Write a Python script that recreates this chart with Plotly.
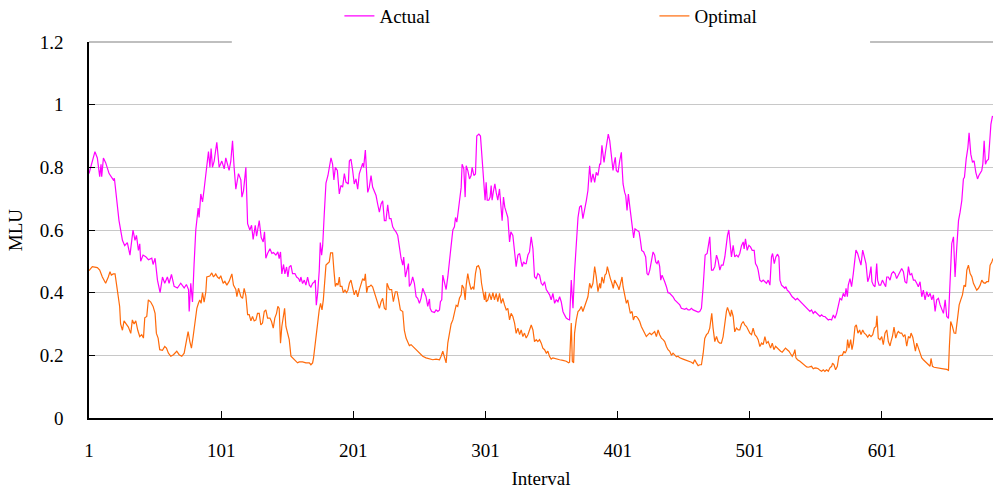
import plotly.graph_objects as go

# Interval positions and MLU values for the actual routing
actual_interval = [
    1, 3.5, 5.5, 7.3, 9.1, 10.1, 10.6, 11.9, 13.6, 16.2, 17.9, 19.4, 20.2, 21.7, 23.7, 26.3, 28, 30, 32, 34.3,
    35.8, 36.9, 38.4, 39.4, 40.1, 41.9, 43.9, 46, 48.5, 49.5, 51, 52.8, 54.8, 56.6, 58.3, 60.3, 61.6, 63.4, 65.4, 67.9,
    70.4, 73, 74.7, 76.3, 76.8, 78, 79.3, 80.5, 81.8, 83.6, 84.3, 85.6, 86.9, 88.1, 88.9, 89.9, 91.4, 92.5, 93.4, 94.4,
    95.7, 97.7, 99.5, 101.5, 103.3, 104.5, 107, 108.3, 109.6, 110.8, 112.1, 114.1, 115.9, 116.7, 117.9, 119.7, 121, 122.7, 124, 125.2,
    126.8, 127.8, 129.8, 131.3, 132.8, 133.8, 134.8, 136.1, 137.9, 139.4, 140.6, 142.4, 143.9, 144.9, 145.9, 146.9, 148.2, 149.2, 150.5, 151.5,
    152.5, 153.8, 155, 156.8, 158.1, 159.6, 160.6, 161.3, 162.6, 163.9, 165.1, 166.4, 167.7, 168.9, 170.2, 171.4, 172.2, 173, 174, 175.2,
    176, 177, 177.8, 179, 180.3, 181.8, 182.8, 184.1, 185.3, 186.3, 187.4, 188.9, 190.4, 191.6, 192.9, 194.2, 195.4, 197.2, 198, 199.2,
    200.5, 201.7, 203, 204.3, 205.5, 206.8, 208.1, 208.8, 210.1, 211.1, 211.9, 213.1, 214.4, 215.6, 216.9, 218.2, 219.4, 220.7, 222, 223.2,
    224.5, 225.7, 227, 228.3, 229.5, 230.8, 232.1, 233.3, 234.6, 235.8, 237.1, 238.4, 239.1, 240.4, 241.6, 242.7, 243.4, 244.7, 245.9, 247.2,
    248.5, 249.7, 251, 252.2, 253.5, 254.8, 256, 257.3, 258.6, 259.1, 260.3, 262.4, 263.6, 264.9, 266.2, 266.9, 267.9, 268.7, 269.9, 271.2,
    272.5, 273.7, 275, 276.3, 277.5, 278.3, 279.3, 280, 281.3, 282.6, 283.3, 284.6, 285.6, 286.4, 287.6, 288.9, 290.1, 290.9, 292.2, 293.4,
    294.4, 296, 297.2, 298, 299, 299.7, 300.7, 301.5, 302.3, 303.5, 304.5, 305.3, 306, 307.1, 308.1, 309.1, 310.3, 311.6, 312.6, 313.6,
    314.6, 315.6, 316.7, 317.9, 319.2, 320.2, 321.7, 323, 324.2, 325.5, 326.8, 328, 328.8, 329.8, 330.8, 331.8, 333.1, 334.3, 335.6, 336.9,
    338.1, 339.4, 340.6, 341.9, 343.2, 344.4, 345.7, 347, 348.2, 349.5, 350.7, 352, 353.3, 354.5, 355.8, 357.1, 358.3, 359.6, 360.8, 362.1,
    363.4, 364.6, 365.9, 367.2, 368.4, 369.7, 371, 372.2, 373.5, 374.7, 376, 377.3, 378.5, 379.8, 381, 382.3, 383.6, 384.8, 386.1, 387.4,
    388.1, 389.1, 389.9, 390.7, 391.9, 392.9, 393.9, 395, 396.2, 397.5, 398.2, 399.2, 400, 401.3, 402.5, 403.8, 404.5, 405.1, 406.3, 407.1,
    408.1, 409.1, 410.1, 411.4, 412.1, 413.1, 414.1, 415.7, 417.2, 418.2, 419.2, 420.7, 422.2, 423.2, 424.2, 425.3, 426.5, 427.8, 429, 429.8,
    430.8, 431.8, 432.8, 433.6, 434.6, 435.4, 436.6, 437.9, 439.1, 440.4, 441.7, 442.9, 444.2, 445.5, 446.7, 448, 449.2, 450.5, 451.8, 453,
    454.3, 455.6, 456.8, 458.1, 460.1, 461.9, 463.1, 464.4, 465.7, 466.4, 467.2, 468.7, 469.7, 470.7, 472, 473.2, 474.5, 475.8, 477, 478.3,
    479.5, 480.8, 482.1, 482.8, 484.1, 485.1, 485.9, 487.1, 488.4, 489.6, 490.9, 492.2, 493.4, 494.7, 496, 496.7, 497.7, 499, 500.3, 501.5,
    502.8, 504.3, 505.3, 506.6, 507.3, 508.6, 509.9, 511.1, 512.4, 513.6, 514.9, 516.2, 517.4, 518.2, 519.5, 520.7, 522, 523, 523.8, 525,
    526.3, 527.5, 528.3, 529.3, 530.6, 531.8, 533.1, 534.4, 535.6, 536.9, 538.1, 538.9, 540.2, 541.4, 542.7, 544, 545.2, 546.5, 547.7, 549,
    550.3, 551.5, 552.8, 554.1, 555.3, 556.6, 557.8, 559.1, 560.4, 561.6, 562.9, 564.2, 565.4, 566.7, 567.9, 569.2, 570.5, 571.7, 573, 573.8,
    574.8, 575.5, 576.8, 578, 579.3, 580.6, 581.3, 582.6, 583.9, 585.1, 586.4, 587.6, 588.9, 590.2, 591.4, 592.7, 593.4, 594.5, 595.7, 597,
    597.7, 598.8, 600, 601.3, 602.5, 603.8, 604.6, 605.8, 607.1, 608.3, 609.6, 610.9, 612.1, 613.4, 614.7, 615.9, 617.2, 618.4, 619.7, 621,
    622.2, 623.5, 624.8, 626, 627.3, 628.5, 629.8, 631.1, 632.3, 633.6, 634.9, 636.1, 637.4, 638.7, 639.9, 641.2, 642.4, 643.7, 645, 646.2,
    647.5, 648.8, 650, 651.3, 652.5, 653.8, 655.1, 656.3, 657.6, 658.9, 660.1, 661.4, 662.6, 663.4, 664.7, 666, 666.9, 668.2, 669.5, 670.7,
    672, 673.3, 674.3, 675.3, 676.5, 677.3, 678.3, 679.3, 680.3, 681.6, 682.3, 683.4, 684.6,
]
actual_mlu = [
    0.78, 0.815, 0.85, 0.83, 0.77, 0.81, 0.77, 0.83, 0.815, 0.78, 0.77, 0.76, 0.765, 0.70, 0.63, 0.567, 0.55, 0.56, 0.52, 0.60,
    0.567, 0.583, 0.535, 0.556, 0.50, 0.52, 0.515, 0.505, 0.51, 0.49, 0.51, 0.44, 0.40, 0.45, 0.43, 0.45, 0.43, 0.458, 0.42, 0.415,
    0.43, 0.415, 0.426, 0.41, 0.34, 0.43, 0.37, 0.49, 0.60, 0.67, 0.64, 0.715, 0.69, 0.73, 0.76, 0.81, 0.85, 0.80, 0.86, 0.80,
    0.82, 0.88, 0.80, 0.82, 0.795, 0.83, 0.79, 0.82, 0.885, 0.80, 0.73, 0.78, 0.76, 0.705, 0.725, 0.80, 0.62, 0.60, 0.615, 0.57,
    0.615, 0.58, 0.63, 0.576, 0.562, 0.594, 0.51, 0.525, 0.54, 0.525, 0.528, 0.52, 0.53, 0.509, 0.53, 0.46, 0.49, 0.46, 0.482, 0.45,
    0.482, 0.487, 0.461, 0.461, 0.45, 0.445, 0.435, 0.45, 0.429, 0.44, 0.424, 0.45, 0.424, 0.418, 0.43, 0.434, 0.44, 0.36, 0.398, 0.47,
    0.56, 0.52, 0.55, 0.65, 0.75, 0.774, 0.795, 0.83, 0.81, 0.76, 0.80, 0.79, 0.715, 0.742, 0.737, 0.78, 0.753, 0.747, 0.82, 0.826,
    0.79, 0.747, 0.763, 0.73, 0.779, 0.795, 0.813, 0.80, 0.855, 0.779, 0.72, 0.737, 0.774, 0.737, 0.726, 0.71, 0.683, 0.657, 0.683, 0.693,
    0.63, 0.63, 0.68, 0.636, 0.636, 0.61, 0.60, 0.594, 0.583, 0.546, 0.51, 0.488, 0.514, 0.45, 0.477, 0.493, 0.42, 0.43, 0.45, 0.43,
    0.387, 0.382, 0.366, 0.382, 0.414, 0.398, 0.387, 0.356, 0.38, 0.35, 0.34, 0.337, 0.345, 0.34, 0.345, 0.371, 0.377, 0.456, 0.43, 0.41,
    0.451, 0.49, 0.55, 0.60, 0.61, 0.64, 0.625, 0.647, 0.695, 0.736, 0.81, 0.795, 0.705, 0.805, 0.79, 0.763, 0.774, 0.80, 0.774, 0.779,
    0.90, 0.906, 0.90, 0.853, 0.79, 0.736, 0.695, 0.752, 0.695, 0.695, 0.705, 0.742, 0.695, 0.726, 0.747, 0.72, 0.695, 0.731, 0.684, 0.63,
    0.705, 0.673, 0.657, 0.64, 0.562, 0.594, 0.583, 0.525, 0.483, 0.52, 0.525, 0.498, 0.483, 0.498, 0.493, 0.493, 0.52, 0.53, 0.578, 0.54,
    0.451, 0.445, 0.461, 0.456, 0.43, 0.424, 0.435, 0.41, 0.403, 0.393, 0.377, 0.398, 0.366, 0.377, 0.371, 0.387, 0.371, 0.34, 0.329, 0.319,
    0.315, 0.313, 0.44, 0.35, 0.467, 0.567, 0.64, 0.673, 0.678, 0.636, 0.673, 0.694, 0.726, 0.805, 0.752, 0.779, 0.752, 0.784, 0.774, 0.81,
    0.81, 0.87, 0.842, 0.816, 0.853, 0.885, 0.906, 0.885, 0.842, 0.79, 0.81, 0.832, 0.79, 0.784, 0.82, 0.848, 0.79, 0.747, 0.72, 0.71,
    0.662, 0.715, 0.678, 0.63, 0.62, 0.575, 0.604, 0.60, 0.594, 0.567, 0.535, 0.53, 0.514, 0.461, 0.456, 0.472, 0.503, 0.53, 0.52, 0.498,
    0.493, 0.503, 0.483, 0.44, 0.456, 0.445, 0.435, 0.419, 0.40, 0.398, 0.393, 0.387, 0.377, 0.371, 0.368, 0.361, 0.35, 0.348, 0.347, 0.35,
    0.345, 0.345, 0.35, 0.345, 0.342, 0.338, 0.34, 0.35, 0.419, 0.483, 0.52, 0.525, 0.546, 0.578, 0.472, 0.472, 0.483, 0.52, 0.503, 0.472,
    0.488, 0.488, 0.514, 0.54, 0.583, 0.60, 0.567, 0.514, 0.551, 0.514, 0.52, 0.514, 0.525, 0.55, 0.562, 0.54, 0.572, 0.535, 0.551, 0.546,
    0.535, 0.535, 0.493, 0.483, 0.472, 0.44, 0.435, 0.44, 0.435, 0.43, 0.44, 0.424, 0.514, 0.525, 0.493, 0.514, 0.523, 0.514, 0.44, 0.424,
    0.419, 0.414, 0.419, 0.408, 0.403, 0.393, 0.387, 0.382, 0.377, 0.382, 0.377, 0.371, 0.366, 0.361, 0.356, 0.35, 0.345, 0.34, 0.345, 0.334,
    0.34, 0.334, 0.329, 0.324, 0.329, 0.324, 0.324, 0.318, 0.313, 0.315, 0.313, 0.329, 0.318, 0.334, 0.356, 0.382, 0.377, 0.398, 0.387, 0.414,
    0.387, 0.424, 0.445, 0.419, 0.461, 0.504, 0.536, 0.525, 0.504, 0.488, 0.536, 0.514, 0.493, 0.435, 0.45, 0.483, 0.435, 0.424, 0.419, 0.493,
    0.44, 0.424, 0.424, 0.44, 0.43, 0.419, 0.45, 0.45, 0.44, 0.461, 0.467, 0.461, 0.445, 0.456, 0.467, 0.477, 0.467, 0.435, 0.43, 0.483,
    0.456, 0.461, 0.44, 0.44, 0.43, 0.419, 0.435, 0.387, 0.408, 0.377, 0.403, 0.387, 0.398, 0.377, 0.393, 0.34, 0.377, 0.382, 0.361, 0.345,
    0.334, 0.377, 0.324, 0.318, 0.419, 0.557, 0.578, 0.45, 0.546, 0.63, 0.657, 0.694, 0.763, 0.768, 0.826, 0.863, 0.91, 0.842, 0.816, 0.821,
    0.784, 0.763, 0.774, 0.784, 0.79, 0.81, 0.885, 0.81, 0.821, 0.826, 0.885, 0.937, 0.964,
]

# Interval positions and MLU values for the optimal routing
optimal_interval = [
    1, 3.5, 7.3, 9.1, 11.1, 13.6, 15.6, 16.9, 17.9, 19.4, 20.7, 21.9, 23.2, 24.2, 24.9, 26.3, 27.5, 29.3, 30.8, 32.6,
    33.8, 35.1, 36.4, 37.9, 39.4, 40.9, 42.2, 43.2, 44.7, 45.9, 47.7, 49.5, 51, 52, 53.3, 54.5, 56.6, 58.3, 59.6, 61.1,
    62.9, 64.9, 67.4, 69.2, 71.2, 73, 74.2, 76, 77.3, 78.5, 79.8, 81.3, 82.6, 83.8, 84.8, 85.8, 86.9, 88.1, 89.4, 90.1,
    92.4, 93.9, 95.2, 96.9, 98.2, 99.5, 100.7, 102.5, 103.8, 105.3, 107, 109.1, 110.3, 112.1, 112.9, 114.1, 115.9, 117.2, 118.4, 119.7,
    121, 122.2, 123.5, 124.7, 126, 127.3, 128.5, 129.8, 131, 132.3, 133.6, 134.8, 136.1, 137.9, 139.1, 140.4, 141.6, 142.9, 143.9, 144.9,
    145.9, 146.9, 148.2, 149, 150, 151.2, 152.5, 153.8, 155, 156.3, 157.6, 158.8, 160.1, 162.6, 165.1, 167.7, 168.9, 170.2, 170.9, 171.9,
    172.7, 174, 175.2, 176.2, 177.3, 178.3, 179.3, 180.3, 181.5, 182.8, 183.8, 185.3, 186.3, 187.4, 188.4, 189.4, 190.4, 191.1, 192.4, 193.4,
    194.7, 195.9, 196.9, 198, 199.2, 200.5, 201.7, 203, 204.3, 205.5, 206.8, 208.1, 209.3, 210.1, 211.1, 212.1, 213.1, 214.4, 215.6, 216.9,
    218.2, 219.4, 220.7, 222, 223.2, 224.5, 225.7, 226.5, 228.3, 230, 231.3, 232.8, 234.1, 235.3, 236.6, 238.4, 239.6, 240.9, 242.2, 243.4,
    244.7, 245.9, 247.2, 248.5, 251, 253.5, 256, 258.6, 261.1, 263.6, 266.2, 267.4, 268.7, 269.9, 271.2, 272.5, 273.7, 275, 276.3, 277.5,
    278.8, 280, 281.3, 282.6, 283.3, 284.6, 285.6, 286.4, 287.6, 288.9, 290.1, 291.4, 292.2, 293.4, 294.4, 295.7, 297, 298, 299, 300.2,
    301, 301.5, 302.8, 304, 305.3, 306.6, 307.8, 309.1, 310.3, 311.6, 312.9, 314.1, 315.4, 316.7, 317.9, 319.2, 320.4, 321.7, 323, 324.2,
    325.5, 326.8, 328, 329.3, 330.5, 331.8, 333.1, 334.3, 335.6, 336.9, 338.1, 339.4, 340.6, 341.9, 343.2, 344.4, 345.7, 347, 348.2, 349.5,
    350.7, 352, 354.5, 357.1, 359.6, 362.1, 363.9, 364.6, 365.9, 366.7, 367.7, 368.4, 369.7, 371, 372.2, 373.5, 374.7, 376, 377.3, 378.5,
    379.8, 381, 382.3, 383.6, 384.8, 386.1, 387.4, 388.1, 389.1, 390.4, 391.4, 392.4, 393.2, 394.2, 395.5, 396.7, 397.7, 398.7, 400, 401.3,
    402, 403.3, 404.3, 405.1, 406.3, 407.6, 408.6, 409.6, 410.6, 411.9, 412.9, 413.9, 415.2, 416.4, 417.7, 418.9, 420.2, 421.5, 422.7, 424,
    425.3, 426.5, 427.8, 429, 430.3, 431.6, 432.8, 434.1, 435.4, 436.6, 437.9, 439.1, 440.4, 441.7, 442.9, 444.2, 445.5, 446.7, 448, 450.5,
    453, 455.6, 456.8, 458.1, 459.3, 460.6, 461.9, 463.1, 464.4, 465.7, 466.9, 468.2, 469.4, 470.7, 471.5, 472.2, 473.2, 474.5, 475.8, 477,
    478.3, 479.5, 480.8, 482.1, 483.3, 484.1, 485.4, 486.4, 487.1, 488.4, 489.6, 490.9, 492.2, 493.4, 494.7, 496, 497.2, 498.5, 499.8, 501,
    502.3, 503.5, 504.8, 506.1, 507.3, 508.6, 509.9, 511.1, 512.4, 513.6, 514.9, 516.7, 518, 519.2, 520.5, 521.7, 523, 524.3, 525.5, 526.8,
    528, 529.3, 530.6, 531.8, 533.1, 534.4, 535.1, 535.9, 537.1, 538.9, 540.2, 541.4, 542.7, 544, 545.2, 546.5, 547.7, 549, 550.3, 551.5,
    552.8, 554.1, 555.3, 556.6, 557.8, 559.1, 560.4, 561.6, 562.9, 563.6, 564.7, 565.9, 567.2, 568.4, 569.7, 571, 572.2, 573.2, 574.3, 575,
    576, 577.3, 578.3, 579.3, 580.6, 581.6, 582.8, 584.1, 585.1, 586.4, 587.6, 588.9, 590.2, 591.4, 592.7, 594, 595.2, 596.5, 597.2, 598.2,
    599.5, 600.8, 602, 603.3, 604.6, 605.8, 607.1, 607.8, 608.9, 610.1, 611.4, 612.6, 613.4, 614.7, 615.9, 617.2, 618.4, 619.7, 621, 622.2,
    623, 624.3, 625.3, 626.3, 627.3, 628.5, 629.8, 631.1, 632.3, 633.6, 634.9, 636.1, 637.4, 638.1, 639.2, 640.4, 642.4, 645, 647.5, 650,
    651.3, 652, 653, 654.3, 655.6, 656.8, 658.1, 659.4, 660.6, 661.9, 663.1, 664.2, 665.2, 666.4, 667.7, 669, 670.2, 671.5, 672.7, 674,
    675.3, 676.5, 677.8, 679, 680.3, 681.6, 682.8, 684.1, 685,
]
optimal_mlu = [
    0.47, 0.483, 0.48, 0.472, 0.45, 0.43, 0.45, 0.467, 0.456, 0.46, 0.46, 0.424, 0.398, 0.356, 0.30, 0.28, 0.31, 0.30, 0.29, 0.27,
    0.313, 0.30, 0.31, 0.28, 0.26, 0.266, 0.255, 0.32, 0.324, 0.377, 0.37, 0.356, 0.334, 0.27, 0.255, 0.218, 0.216, 0.228, 0.223, 0.207,
    0.197, 0.202, 0.213, 0.202, 0.197, 0.207, 0.234, 0.276, 0.244, 0.223, 0.26, 0.30, 0.35, 0.366, 0.377, 0.366, 0.40, 0.37, 0.403, 0.45,
    0.453, 0.463, 0.45, 0.46, 0.45, 0.445, 0.454, 0.43, 0.436, 0.424, 0.436, 0.46, 0.424, 0.41, 0.387, 0.414, 0.387, 0.382, 0.414, 0.39,
    0.33, 0.33, 0.31, 0.324, 0.31, 0.313, 0.334, 0.334, 0.297, 0.303, 0.34, 0.345, 0.319, 0.319, 0.308, 0.287, 0.319, 0.334, 0.356, 0.35,
    0.239, 0.292, 0.334, 0.35, 0.292, 0.27, 0.25, 0.197, 0.192, 0.186, 0.18, 0.176, 0.179, 0.179, 0.176, 0.176, 0.17, 0.176, 0.192, 0.229,
    0.26, 0.30, 0.345, 0.366, 0.345, 0.377, 0.45, 0.488, 0.493, 0.498, 0.527, 0.527, 0.472, 0.42, 0.43, 0.424, 0.45, 0.42, 0.42, 0.40,
    0.408, 0.40, 0.408, 0.43, 0.44, 0.419, 0.393, 0.408, 0.387, 0.408, 0.424, 0.445, 0.438, 0.46, 0.40, 0.419, 0.419, 0.424, 0.419, 0.403,
    0.387, 0.366, 0.35, 0.371, 0.382, 0.35, 0.345, 0.43, 0.41, 0.41, 0.371, 0.403, 0.403, 0.377, 0.345, 0.34, 0.28, 0.255, 0.24, 0.231,
    0.234, 0.229, 0.223, 0.218, 0.207, 0.197, 0.192, 0.188, 0.186, 0.188, 0.186, 0.197, 0.213, 0.195, 0.176, 0.24, 0.27, 0.30, 0.313, 0.334,
    0.36, 0.356, 0.382, 0.393, 0.424, 0.414, 0.377, 0.424, 0.461, 0.43, 0.41, 0.419, 0.41, 0.461, 0.483, 0.486, 0.472, 0.43, 0.403, 0.377,
    0.403, 0.371, 0.377, 0.398, 0.377, 0.40, 0.377, 0.398, 0.371, 0.398, 0.366, 0.382, 0.361, 0.345, 0.35, 0.313, 0.334, 0.324, 0.303, 0.27,
    0.287, 0.266, 0.281, 0.26, 0.271, 0.255, 0.266, 0.281, 0.297, 0.281, 0.244, 0.25, 0.244, 0.25, 0.239, 0.223, 0.218, 0.207, 0.213, 0.196,
    0.188, 0.192, 0.188, 0.186, 0.184, 0.181, 0.176, 0.178, 0.303, 0.181, 0.176, 0.271, 0.313, 0.34, 0.345, 0.356, 0.34, 0.356, 0.371, 0.387,
    0.43, 0.414, 0.43, 0.483, 0.451, 0.403, 0.43, 0.414, 0.45, 0.43, 0.456, 0.461, 0.483, 0.461, 0.445, 0.43, 0.414, 0.44, 0.43, 0.419,
    0.409, 0.43, 0.45, 0.419, 0.387, 0.366, 0.377, 0.355, 0.334, 0.34, 0.313, 0.324, 0.324, 0.318, 0.308, 0.292, 0.281, 0.271, 0.26, 0.266,
    0.271, 0.266, 0.271, 0.276, 0.26, 0.281, 0.266, 0.255, 0.25, 0.244, 0.228, 0.218, 0.213, 0.20, 0.207, 0.202, 0.195, 0.197, 0.192, 0.188,
    0.184, 0.181, 0.178, 0.174, 0.186, 0.176, 0.167, 0.17, 0.17, 0.206, 0.254, 0.266, 0.271, 0.287, 0.313, 0.334, 0.287, 0.244, 0.26, 0.244,
    0.239, 0.239, 0.26, 0.313, 0.34, 0.353, 0.34, 0.324, 0.345, 0.324, 0.275, 0.287, 0.281, 0.281, 0.30, 0.308, 0.297, 0.292, 0.281, 0.271,
    0.266, 0.287, 0.266, 0.26, 0.25, 0.228, 0.239, 0.234, 0.26, 0.239, 0.244, 0.223, 0.239, 0.218, 0.229, 0.223, 0.216, 0.213, 0.21, 0.216,
    0.223, 0.218, 0.213, 0.205, 0.197, 0.207, 0.218, 0.192, 0.186, 0.181, 0.176, 0.17, 0.165, 0.163, 0.162, 0.163, 0.165, 0.157, 0.16, 0.159,
    0.157, 0.152, 0.149, 0.154, 0.149, 0.154, 0.149, 0.16, 0.165, 0.175, 0.17, 0.154, 0.165, 0.197, 0.20, 0.20, 0.213, 0.207, 0.218, 0.25,
    0.223, 0.25, 0.218, 0.239, 0.292, 0.297, 0.271, 0.281, 0.266, 0.281, 0.271, 0.266, 0.258, 0.266, 0.26, 0.266, 0.287, 0.292, 0.326, 0.255,
    0.25, 0.26, 0.234, 0.271, 0.281, 0.244, 0.23, 0.244, 0.26, 0.29, 0.255, 0.271, 0.276, 0.271, 0.271, 0.26, 0.266, 0.229, 0.26, 0.255,
    0.271, 0.258, 0.239, 0.213, 0.239, 0.223, 0.202, 0.192, 0.186, 0.181, 0.176, 0.17, 0.165, 0.19, 0.165, 0.162, 0.16, 0.159, 0.157, 0.155,
    0.152, 0.229, 0.308, 0.292, 0.271, 0.27, 0.324, 0.361, 0.377, 0.393, 0.424, 0.419, 0.472, 0.488, 0.461, 0.451, 0.43, 0.419, 0.408, 0.414,
    0.424, 0.44, 0.432, 0.43, 0.435, 0.435, 0.488, 0.498, 0.509,
]

x_tick_values = [1, 101, 201, 301, 401, 501, 601]
x_tick_labels = ["1", "101", "201", "301", "401", "501", "601"]

FONT = "Liberation Serif, Times New Roman, serif"

fig = go.Figure()
fig.add_trace(go.Scatter(
    x=actual_interval, y=actual_mlu, mode="lines", name="Actual",
    line=dict(color="#FF00FF", width=1.2),
))
fig.add_trace(go.Scatter(
    x=optimal_interval, y=optimal_mlu, mode="lines", name="Optimal",
    line=dict(color="#FF6A0A", width=1.2),
))

# top frame edge, interrupted behind the legend
fig.add_shape(type="line", xref="paper", yref="paper", x0=0, x1=0.158, y0=1, y1=1,
              line=dict(color="#808080", width=1.2))
fig.add_shape(type="line", xref="paper", yref="paper", x0=0.864, x1=1, y0=1, y1=1,
              line=dict(color="#808080", width=1.2))

fig.update_layout(
    width=993, height=490,
    margin=dict(l=89, r=0, t=42, b=72, autoexpand=False),
    paper_bgcolor="white", plot_bgcolor="white",
    font=dict(family=FONT, size=19, color="black"),
    showlegend=True,
    legend=dict(
        orientation="h", x=0.277, xanchor="left", y=1.069, yanchor="middle",
        entrywidth=270, entrywidthmode="pixels",
        font=dict(family=FONT, size=19, color="black"),
        bgcolor="rgba(0,0,0,0)",
    ),
    xaxis=dict(
        range=[1, 685], tickvals=x_tick_values, ticktext=x_tick_labels,
        ticks="inside", ticklen=7, tickcolor="black", tickwidth=1,
        showline=True, linecolor="black", linewidth=1.5,
        showgrid=False, zeroline=False, ticklabelstandoff=14,
        title=dict(text="Interval", standoff=12, font=dict(family=FONT, size=19)),
    ),
    yaxis=dict(
        range=[0, 1.2], dtick=0.2, tick0=0,
        ticks="inside", ticklen=6, tickcolor="black", tickwidth=1,
        showline=True, linecolor="black", linewidth=1.5,
        showgrid=True, gridcolor="#c8c8c8", gridwidth=1, zeroline=False,
        ticklabelstandoff=20,
        title=dict(text="MLU", standoff=12, font=dict(family=FONT, size=19)),
    ),
)

fig.write_html("out.html")
